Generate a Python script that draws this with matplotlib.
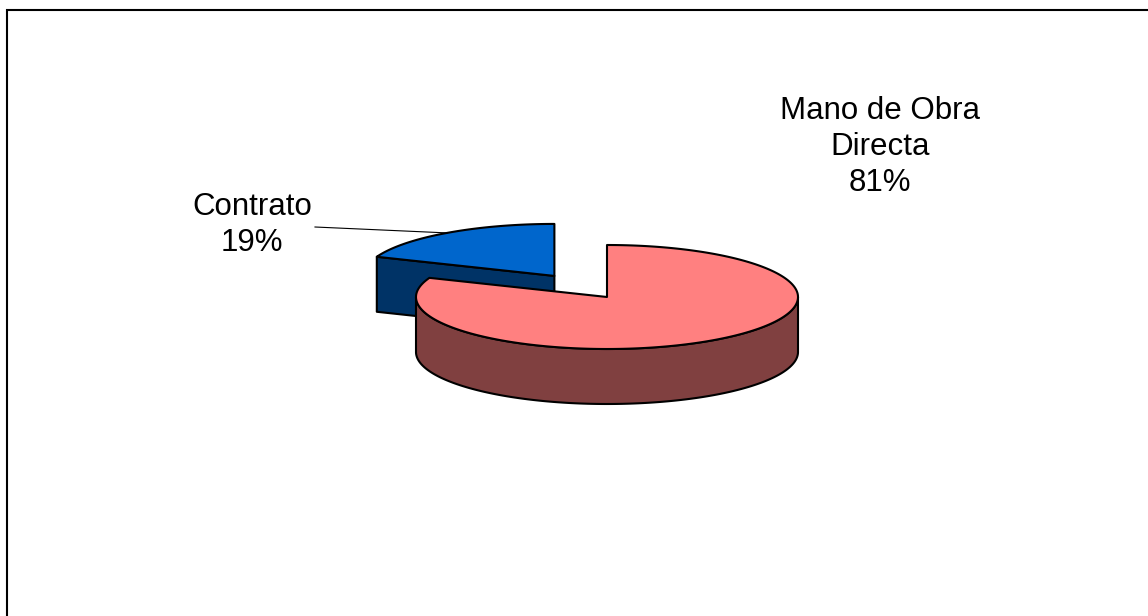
import numpy as np
import matplotlib.pyplot as plt
from matplotlib.patches import Polygon

# data
categories = ['Mano de Obra\nDirecta', 'Contrato']
values = [81, 19]
top_colors = ['#FF8080', '#0066CC']
side_colors = ['#804040', '#003366']
explode = [0.0, 0.49]

W, H = 1148, 616
fig = plt.figure(figsize=(W / 100, H / 100), dpi=100)
ax = fig.add_axes([0, 0, 1, 1])
ax.set_xlim(0, W)
ax.set_ylim(H, 0)
ax.axis('off')

# pie geometry in pixel space
cx, cy = 607, 297
rx, ry = 191, 52
depth = 55
start = 90.0
lw = 1.5


def pt(t, ox, oy, dz=0.0):
    r = np.radians(t)
    return np.column_stack([cx + ox + rx * np.cos(r), cy + oy - ry * np.sin(r) + dz])


total = float(sum(values))
slices = []
cum = 0.0
for i, v in enumerate(values):
    a0 = start - cum / total * 360
    a1 = a0 - v / total * 360
    cum += v
    mid = (a0 + a1) / 2
    ox = explode[i] * rx * np.cos(np.radians(mid))
    oy = -explode[i] * ry * np.sin(np.radians(mid))
    slices.append((i, a0, a1, mid, ox, oy))

# back slices first
slices.sort(key=lambda s: -np.sin(np.radians(s[3])))

for i, a0, a1, mid, ox, oy in slices:
    apex = np.array([[cx + ox, cy + oy]])
    kw = dict(edgecolor='black', lw=lw, joinstyle='round')
    # radial walls
    for a, vis in ((a0, np.cos(np.radians(a0)) < -1e-6), (a1, np.cos(np.radians(a1)) > 1e-6)):
        if vis:
            p = pt(np.array([a]), ox, oy)
            quad = np.vstack([apex, p, p + [0, depth], apex + [0, depth]])
            ax.add_patch(Polygon(quad, closed=True, facecolor=side_colors[i], **kw))
    # outer wall (front part only)
    ts = np.linspace(a1, a0, 600)
    front = ts[np.sin(np.radians(ts)) < 0]
    if len(front) > 1:
        top = pt(front, ox, oy)
        bot = pt(front[::-1], ox, oy, depth)
        ax.add_patch(Polygon(np.vstack([top, bot]), closed=True, facecolor=side_colors[i], **kw))
    # top face
    arc = pt(np.linspace(a0, a1, 600), ox, oy)
    ax.add_patch(Polygon(np.vstack([apex, arc]), closed=True, facecolor=top_colors[i], **kw))

# labels
font = dict(family='Liberation Sans', size=22.5, ha='center', va='center', linespacing=1.28)
pcts = ['%d%%' % round(v / total * 100) for v in values]
ax.text(880, 147, categories[0] + '\n' + pcts[0], **font)
ax.text(252, 225, categories[1] + '\n' + pcts[1], **font)

# leader line to the Contrato slice
s = [s for s in slices if s[0] == 1][0]
end = pt(np.array([s[3]]), s[4], s[5])[0]
ax.plot([315, end[0]], [227, end[1]], color='black', lw=0.8)

# chart area border (left and top)
ax.plot([7, 7, W], [H, 10, 10], color='black', lw=1.5, solid_joinstyle='miter')

fig.savefig('out.png', dpi=100)
